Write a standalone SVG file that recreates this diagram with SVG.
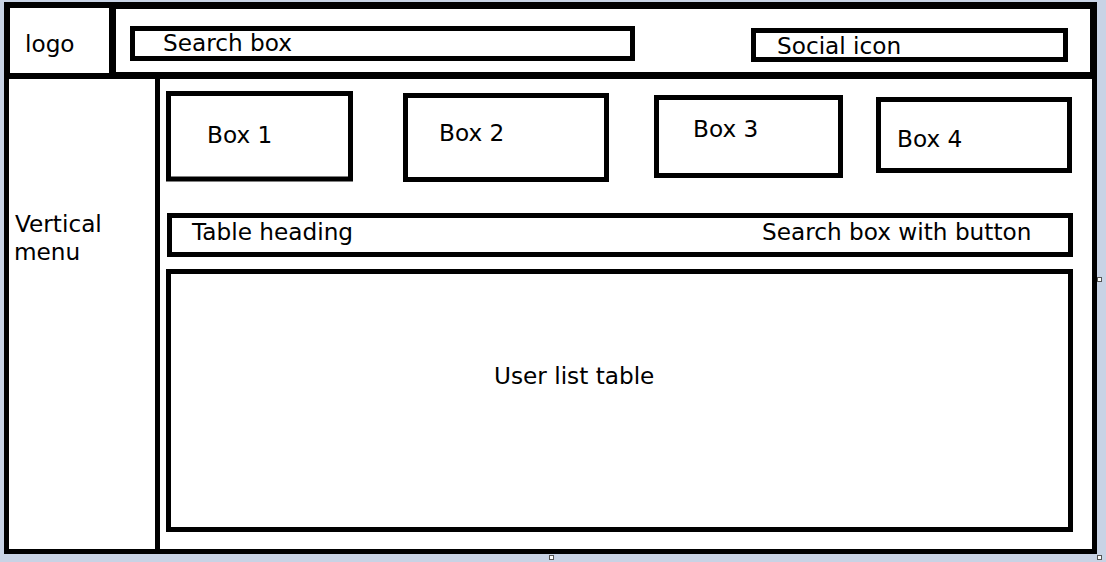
<svg xmlns="http://www.w3.org/2000/svg" width="1106" height="562" viewBox="0 0 1106 562">
  <style>
    .box { fill: #ffffff; stroke: #000000; stroke-width: 5; }
    .lbl { font-family: "DejaVu Sans", "Noto Sans", sans-serif; font-size: 23.2px; fill: #000000; }
    .handle { fill: #ffffff; stroke: #555555; stroke-width: 1; }
  </style>
  <rect x="0" y="0" width="1106" height="562" fill="#c8d3e5"/>
  <rect x="4" y="2" width="1093" height="552" fill="#ffffff"/>

  <g id="vertical-menu">
    <rect class="box" x="6.5" y="76.5" width="151" height="475"/>
    <text class="lbl" x="15" y="232">Vertical</text>
    <text class="lbl" x="14" y="260">menu</text>
  </g>
  <g id="main-content">
    <rect class="box" x="157.5" y="76.5" width="937" height="475"/>
  </g>
  <g id="header">
    <rect class="box" x="112.5" y="5.5" width="981" height="70" style="stroke-width:7"/>
  </g>
  <g id="logo">
    <rect class="box" x="7" y="5" width="105" height="71" style="stroke-width:6"/>
    <text class="lbl" x="25" y="52">logo</text>
  </g>
  <g id="search-box">
    <rect class="box" x="132.5" y="28.5" width="500" height="30"/>
    <text class="lbl" x="163" y="51">Search box</text>
  </g>
  <g id="social-icon">
    <rect class="box" x="753.5" y="30.5" width="312" height="29"/>
    <text class="lbl" x="777" y="54">Social icon</text>
  </g>
  <g id="box1">
    <rect class="box" x="168.5" y="93.5" width="182" height="85.5"/>
    <text class="lbl" x="207" y="143">Box 1</text>
  </g>
  <g id="box2">
    <rect class="box" x="405.5" y="95.5" width="201" height="84"/>
    <text class="lbl" x="439" y="141">Box 2</text>
  </g>
  <g id="box3">
    <rect class="box" x="656.5" y="97.5" width="184" height="78"/>
    <text class="lbl" x="693" y="137">Box 3</text>
  </g>
  <g id="box4">
    <rect class="box" x="878.5" y="99.5" width="191" height="71"/>
    <text class="lbl" x="897" y="147">Box 4</text>
  </g>
  <g id="table-heading">
    <rect class="box" x="169.5" y="215.5" width="901" height="39"/>
    <text class="lbl" x="192" y="240">Table heading</text>
    <text class="lbl" x="762" y="240">Search box with button</text>
  </g>
  <g id="user-list-table">
    <rect class="box" x="168.5" y="271.5" width="902" height="258"/>
    <text class="lbl" x="494" y="384">User list table</text>
  </g>
  <g id="connectors"></g>
  <g id="handles">
    <rect class="handle" x="1097.5" y="277.5" width="4" height="4"/>
    <rect class="handle" x="549.5" y="555.5" width="4" height="4"/>
    <rect class="handle" x="1097.5" y="555.5" width="4" height="4"/>
  </g>
</svg>
